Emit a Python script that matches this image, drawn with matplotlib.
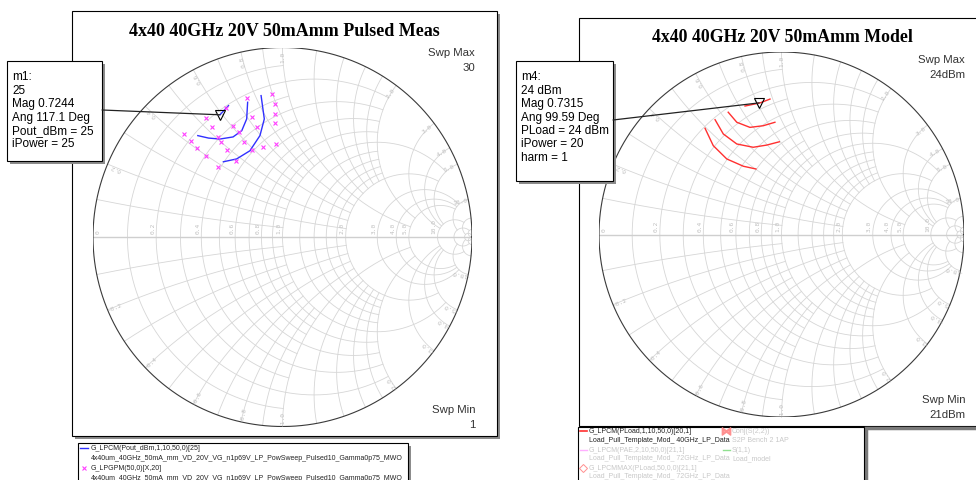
import numpy as np
import matplotlib
matplotlib.use("Agg")
import matplotlib.pyplot as plt
from matplotlib.patches import Rectangle, ConnectionPatch

W, H = 976, 481

# ---- data -------------------------------------------------------------
left_title = "4x40 40GHz 20V 50mAmm Pulsed Meas"
right_title = "4x40 40GHz 20V 50mAmm Model"

# measured Pout contours (reflection coefficient, real / imag)
pout25_re = [-0.330, -0.285]
pout25_im = [0.645, 0.693]
pout24_re = [-0.447, -0.390, -0.330, -0.261, -0.215, -0.189, -0.184]
pout24_im = [0.535, 0.522, 0.517, 0.528, 0.561, 0.623, 0.711]
pout23_re = [-0.312, -0.242, -0.172, -0.119, -0.096, -0.113]
pout23_im = [0.397, 0.412, 0.455, 0.535, 0.623, 0.746]

# measured load-pull gamma points
lp_re = [-0.186, -0.057, -0.040, -0.298, -0.405, -0.163, -0.040, -0.374, -0.263,
         -0.136, -0.040, -0.520, -0.228, -0.342, -0.483, -0.326, -0.202, -0.101,
         -0.034, -0.291, -0.159, -0.450, -0.405, -0.245, -0.339]
lp_im = [0.732, 0.755, 0.702, 0.679, 0.626, 0.635, 0.649, 0.582, 0.587,
         0.582, 0.600, 0.544, 0.553, 0.526, 0.508, 0.503, 0.500, 0.473,
         0.491, 0.459, 0.459, 0.470, 0.426, 0.399, 0.368]

# modelled PLoad contours
pl24_re = [-0.200, -0.118, -0.063]
pl24_im = [0.704, 0.721, 0.742]
pl23_re = [-0.292, -0.245, -0.173, -0.100, -0.036]
pl23_im = [0.670, 0.615, 0.587, 0.596, 0.615]
pl22_re = [-0.364, -0.319, -0.245, -0.155, -0.081, -0.012]
pl22_im = [0.629, 0.551, 0.496, 0.478, 0.490, 0.508]
pl21_re = [-0.419, -0.374, -0.300, -0.209, -0.140]
pl21_im = [0.582, 0.487, 0.414, 0.374, 0.359]

# markers: magnitude, angle (deg)
m1_mag, m1_ang = 0.7244, 117.1
m4_mag, m4_ang = 0.7315, 99.59
m1_lines = ["m1:", "25", "Mag 0.7244", "Ang 117.1 Deg", "Pout_dBm = 25", "iPower = 25"]
m4_lines = ["m4:", "24 dBm", "Mag 0.7315", "Ang 99.59 Deg", "PLoad = 24 dBm", "iPower = 20", "harm = 1"]

left_swp = ("30", "1")
right_swp = ("24dBm", "21dBm")

# Smith grid: value -> extent of the line along the other coordinate
grid_lines = {0.1: 1.0, 0.2: 2.0, 0.3: 1.0, 0.4: 2.0, 0.5: 1.0, 0.6: 2.0,
              0.7: 1.0, 0.8: 2.0, 0.9: 1.0, 1.0: 5.0, 1.2: 2.0, 1.4: 2.0,
              1.6: 2.0, 1.8: 2.0, 2.0: 5.0, 3.0: 10.0, 4.0: 10.0, 5.0: 10.0,
              10.0: 20.0, 20.0: 50.0, 50.0: np.inf}
label_vals = [0.2, 0.4, 0.6, 0.8, 1.0, 2.0, 3.0, 4.0, 5.0, 10.0]

GRID = "#d6d6d6"
LBL = "#c0c0c0"


def gamma(z):
    return (z - 1) / (z + 1)


def span(lim, start):
    a = np.arctan(lim) if np.isfinite(lim) else np.pi / 2 - 1e-4
    return np.tan(np.linspace(start, a, 1500))


def draw_smith(ax):
    ax.set_xlim(-1, 1)
    ax.set_ylim(-1, 1)
    ax.set_aspect("equal")
    ax.axis("off")
    for v, lim in grid_lines.items():
        xs = span(lim, -np.arctan(lim) if np.isfinite(lim) else -np.pi / 2 + 1e-4)
        g = gamma(v + 1j * xs)
        ax.plot(g.real, g.imag, color=GRID, lw=0.6, zorder=1)
        rs = span(lim, 0.0)
        for s in (1, -1):
            g = gamma(rs + 1j * s * v)
            ax.plot(g.real, g.imag, color=GRID, lw=0.6, zorder=1)
    ax.plot([-1, 1], [0, 0], color="#cfcfcf", lw=1.0, zorder=1)
    t = np.linspace(0, 2 * np.pi, 800)
    ax.plot(np.cos(t), np.sin(t), color="#3a3a3a", lw=0.8, zorder=2)
    # axis and rim labels
    ax.text(-0.985, 0.02, "0", rotation=90, fontsize=4.5, color=LBL,
            ha="left", va="bottom", family="DejaVu Sans Mono")
    for v in label_vals:
        gx = (v - 1) / (v + 1)
        ax.text(gx - 0.005, 0.02, f"{v:.1f}", rotation=90, fontsize=4.5, color=LBL,
                ha="right", va="bottom", family="DejaVu Sans Mono")
        th = 2 * np.arctan(1 / v)
        for s in (1, -1):
            ang = s * th
            px, py = 0.955 * np.cos(ang), 0.955 * np.sin(ang)
            rot = np.degrees(ang) if s > 0 else np.degrees(ang) + 180
            txt = f"{v:.1f}" if s > 0 else f"-{v:.1f}"
            ax.text(px, py, txt, rotation=rot, fontsize=4.5, color=LBL,
                    ha="center", va="center", rotation_mode="anchor",
                    family="DejaVu Sans Mono")


def fig_axes(x0, y0, w, h, z):
    return fig.add_axes([x0 / W, 1 - (y0 + h) / H, w / W, h / H], zorder=z)


fig = plt.figure(figsize=(W / 100, H / 100), dpi=100)

bg = fig.add_axes([0, 0, 1, 1], zorder=0)
bg.set_xlim(0, W)
bg.set_ylim(H, 0)
bg.axis("off")

fg = fig.add_axes([0, 0, 1, 1], zorder=5)
fg.set_xlim(0, W)
fg.set_ylim(H, 0)
fg.axis("off")
fg.patch.set_alpha(0)

SHADOW = "#8c8c8c"


def framed_box(ax, x0, y0, x1, y1, z=1, shadow=3):
    if shadow:
        ax.add_patch(Rectangle((x0 + shadow, y0 + shadow), x1 - x0, y1 - y0,
                               facecolor=SHADOW, edgecolor="none", zorder=z))
    ax.add_patch(Rectangle((x0, y0), x1 - x0, y1 - y0, facecolor="white",
                           edgecolor="black", lw=0.8, zorder=z + 0.1))


# chart frames
framed_box(bg, 72, 12, 497, 437)
framed_box(bg, 579, 19, 990, 427)

serif = "Liberation Serif"
sans = "Liberation Sans"
bg.text(284, 31, left_title, fontsize=13.0, fontweight="bold", family=serif,
        ha="center", va="center", zorder=3)
bg.text(782, 38, right_title, fontsize=12.8, fontweight="bold", family=serif,
        ha="center", va="center", zorder=3)

SWP = "#333333"
for (xr, ytop, ybot, vals) in [(475, 53, 410, left_swp), (965, 60, 400, right_swp)]:
    bg.text(xr, ytop, "Swp Max", fontsize=8.2, family=sans, color=SWP, ha="right", va="center", zorder=3)
    bg.text(xr, ytop + 15, vals[0], fontsize=8.2, family=sans, color=SWP, ha="right", va="center", zorder=3)
    bg.text(xr, ybot, "Swp Min", fontsize=8.2, family=sans, color=SWP, ha="right", va="center", zorder=3)
    bg.text(xr, ybot + 15, vals[1], fontsize=8.2, family=sans, color=SWP, ha="right", va="center", zorder=3)

# Smith charts
axL = fig_axes(93, 48.5, 379, 379, 2)
axR = fig_axes(599, 53, 365, 365, 2)
for ax in (axL, axR):
    ax.patch.set_alpha(0)
    draw_smith(ax)

BLUE = "#3030ff"
MAG = "#ff40ff"
RED = "#ff3030"
for xs, ys in [(pout25_re, pout25_im), (pout24_re, pout24_im), (pout23_re, pout23_im)]:
    axL.plot(xs, ys, color=BLUE, lw=1.0, zorder=4)
axL.plot(lp_re, lp_im, ls="none", marker="x", ms=3.2, mew=0.8, color=MAG, zorder=5)
for xs, ys in [(pl24_re, pl24_im), (pl23_re, pl23_im), (pl22_re, pl22_im), (pl21_re, pl21_im)]:
    axR.plot(xs, ys, color=RED, lw=1.0, zorder=4)


def marker(ax, mag, ang, box, lines):
    gx = mag * np.cos(np.radians(ang))
    gy = mag * np.sin(np.radians(ang))
    ax.plot([gx], [gy], marker="v", ms=7, mfc="none", mec="black", mew=0.8, zorder=6)
    x0, y0, x1, y1 = box
    framed_box(fg, x0, y0, x1, y1, z=2)
    for i, s in enumerate(lines):
        fg.text(x0 + 5, y0 + 15.5 + 13.4 * i, s, fontsize=8.5, family=sans,
                ha="left", va="center", zorder=4)
    con = ConnectionPatch(xyA=(x1, (y0 + y1) / 2 - 1), coordsA=fg.transData,
                          xyB=(gx, gy), coordsB=ax.transData,
                          color="#222222", lw=0.9, zorder=7)
    fig.add_artist(con)


marker(axL, m1_mag, m1_ang, (7, 62, 102, 162), m1_lines)
marker(axR, m4_mag, m4_ang, (516, 62, 613, 182), m4_lines)

# legends
framed_box(fg, 78, 444, 408, 500, z=2)
tiny = 5.0
INK = "#222222"
fg.plot([80, 88], [449, 449], color=BLUE, lw=1.0, zorder=4)
fg.text(91, 449, "G_LPCM(Pout_dBm,1,10,50,0)[25]", fontsize=tiny, family=sans, va="center", zorder=4, color=INK)
fg.text(91, 459, "4x40um_40GHz_50mA_mm_VD_20V_VG_n1p69V_LP_PowSweep_Pulsed10_Gamma0p75_MWO",
        fontsize=tiny, family=sans, va="center", zorder=4, color=INK)
fg.plot([84], [469], marker="x", ms=3, mew=0.8, color=MAG, zorder=4)
fg.text(91, 469, "G_LPGPM(50,0)[X,20]", fontsize=tiny, family=sans, va="center", zorder=4, color=INK)
fg.text(91, 479, "4x40um_40GHz_50mA_mm_VD_20V_VG_n1p69V_LP_PowSweep_Pulsed10_Gamma0p75_MWO",
        fontsize=tiny, family=sans, va="center", zorder=4, color=INK)

framed_box(fg, 578, 428, 864, 500, z=2, shadow=0)
fg.add_patch(Rectangle((866, 429), 130, 80, facecolor="white", edgecolor="#7a7a7a", lw=2.5, zorder=2))
GREY = "#c8c8c8"
fg.plot([580, 587], [432, 432], color=RED, lw=1.2, zorder=4)
fg.text(589, 432, "G_LPCM(PLoad,1,10,50,0)[20,1]", fontsize=tiny, family=sans, va="center", zorder=4, color=INK)
fg.text(589, 441, "Load_Pull_Template_Mod_ 40GHz_LP_Data", fontsize=tiny, family=sans, va="center", zorder=4, color=INK)
fg.plot([580, 587], [451, 451], color="#ffb0ff", lw=1.0, zorder=4)
fg.text(589, 451, "G_LPCM(PAE,2,10,50,0)[21,1]", fontsize=tiny, family=sans, va="center", zorder=4, color=GREY)
fg.text(589, 459, "Load_Pull_Template_Mod_ 72GHz_LP_Data", fontsize=tiny, family=sans, va="center", zorder=4, color=GREY)
fg.plot([583], [469], marker="D", ms=4, mfc="none", mec="#ff9090", mew=0.7, zorder=4)
fg.text(589, 469, "G_LPCMMAX(PLoad,50,0,0)[21,1]", fontsize=tiny, family=sans, va="center", zorder=4, color=GREY)
fg.text(589, 477, "Load_Pull_Template_Mod_ 72GHz_LP_Data", fontsize=tiny, family=sans, va="center", zorder=4, color=GREY)
fg.plot([726], [432], marker=r"$\bowtie$", ms=6, color="#ff9090", zorder=4)
fg.text(732, 432, "Conj(S(2,2))", fontsize=tiny, family=sans, va="center", zorder=4, color=GREY)
fg.text(732, 441, "S2P Bench 2 1AP", fontsize=tiny, family=sans, va="center", zorder=4, color=GREY)
fg.plot([723, 730], [451, 451], color="#90e090", lw=1.0, zorder=4)
fg.text(732, 451, "S(1,1)", fontsize=tiny, family=sans, va="center", zorder=4, color=GREY)
fg.text(732, 459, "Load_model", fontsize=tiny, family=sans, va="center", zorder=4, color=GREY)

fig.savefig("out.png", dpi=100)
